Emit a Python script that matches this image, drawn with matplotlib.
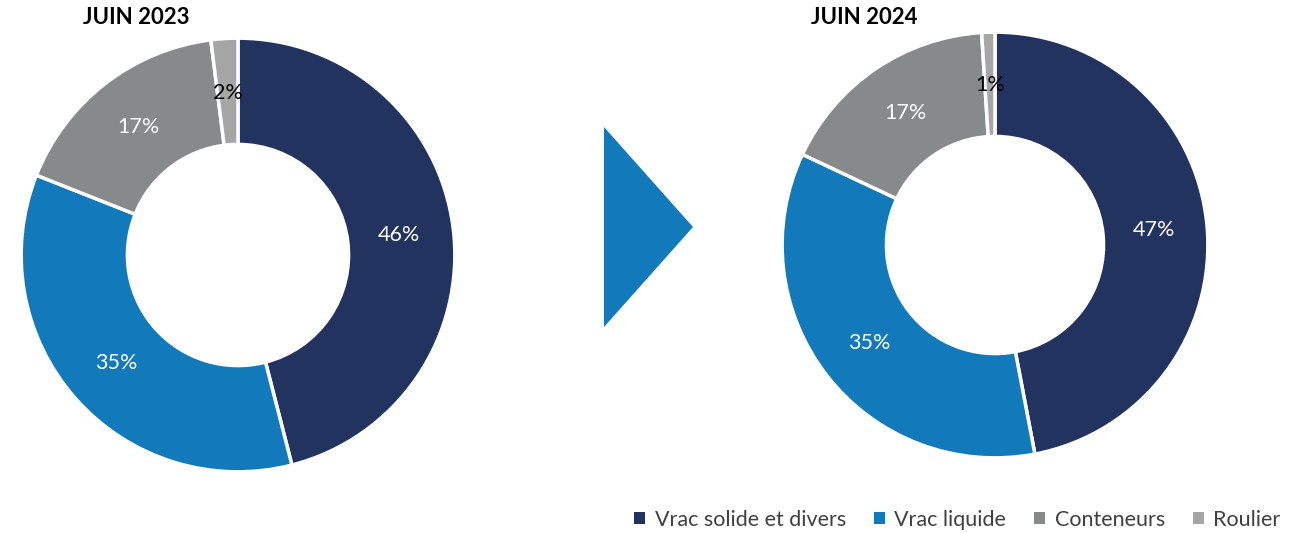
import matplotlib
matplotlib.use("Agg")
import matplotlib.pyplot as plt
from matplotlib.patches import Patch, Polygon

plt.rcParams['font.family'] = ['Lato', 'DejaVu Sans']

# data
categories = ['Vrac solide et divers', 'Vrac liquide', 'Conteneurs', 'Roulier']
values_2023 = [46, 35, 17, 2]
values_2024 = [47, 35, 17, 1]
titles = ['JUIN 2023', 'JUIN 2024']
colors = ['#22335f', '#127abb', '#878a8b', '#a6a6a6']
label_colors = ['white', 'white', 'white', 'black']

W, H = 1299, 533
fig = plt.figure(figsize=(W / 100, H / 100), dpi=100)


def px_axes(cx, cy, r):
    # axes box in pixel coords (from top-left)
    return fig.add_axes([(cx - r) / W, (H - cy - r) / H, 2 * r / W, 2 * r / H])


def donut(ax, vals):
    wedges, texts, autotexts = ax.pie(
        vals, colors=colors, startangle=90, counterclock=False,
        radius=1, autopct=lambda p: f'{p:.0f}%', pctdistance=0.75,
        wedgeprops=dict(width=0.49, edgecolor='white', linewidth=2.5),
        textprops=dict(fontsize=15.5))
    for t, c in zip(autotexts, label_colors):
        t.set_color(c)
    ax.set_xlim(-1.01, 1.01)
    ax.set_ylim(-1.01, 1.01)
    ax.axis('off')


ax1 = px_axes(238, 255, 219)
donut(ax1, values_2023)
ax2 = px_axes(995, 245, 215)
donut(ax2, values_2024)

fig.text(136 / W, 1 - 18 / H, titles[0], ha='center', va='center',
         fontsize=16, fontweight='bold', color='black')
fig.text(864 / W, 1 - 18 / H, titles[1], ha='center', va='center',
         fontsize=16, fontweight='bold', color='black')

# arrow between the two charts
arrow = Polygon([(604 / W, 1 - 127 / H), (604 / W, 1 - 327 / H), (693 / W, 1 - 227 / H)],
                closed=True, transform=fig.transFigure, facecolor='#127abb', edgecolor='none')
fig.patches.append(arrow)

handles = [Patch(facecolor=c, edgecolor='none') for c in colors]
fig.legend(handles, categories, loc='center right', bbox_to_anchor=(1300 / W, 1 - 520 / H),
           ncol=4, frameon=False, fontsize=15.5, handlelength=0.5, handleheight=0.5,
           handletextpad=0.45, columnspacing=1.3, labelcolor='#404040')

fig.savefig('out.png', dpi=100)
